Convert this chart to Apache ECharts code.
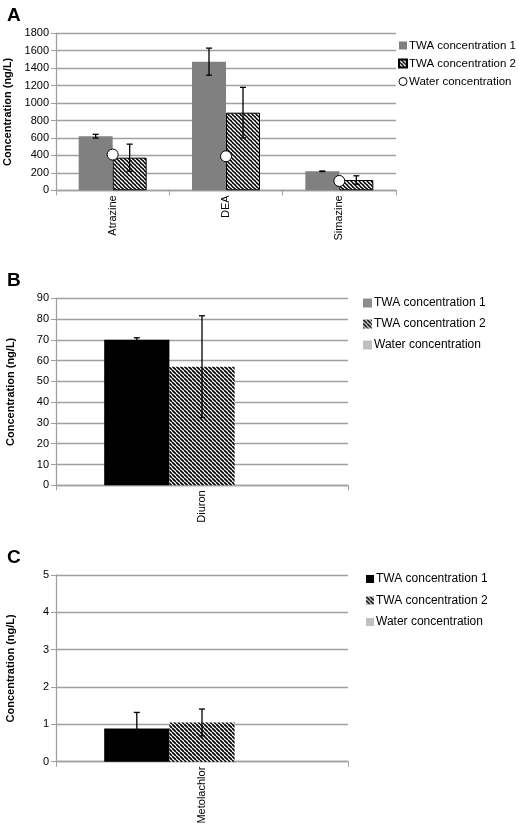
<!DOCTYPE html>
<html>
<head>
<meta charset="utf-8">
<script src="https://cdn.jsdelivr.net/npm/echarts@6/dist/echarts.min.js"></script>
<style>
html,body{margin:0;padding:0;background:#fff;}
#wrap{position:relative;width:519px;height:827px;}
.pan{position:absolute;left:0;width:519px;}
</style>
</head>
<body>
<div id="wrap">
  <div id="pa" class="pan" style="top:0;height:262px;"></div>
  <div id="pb" class="pan" style="top:262px;height:278px;"></div>
  <div id="pc" class="pan" style="top:540px;height:287px;"></div>
</div>
<script>
// ---------- data ----------
const seriesNames = ['TWA concentration 1', 'TWA concentration 2', 'Water concentration'];
const yTitle = 'Concentration (ng/L)';

// Panel A
const categoriesA = ['Atrazine', 'DEA', 'Simazine'];
const twa1A = [620, 1475, 218];
const twa1ErrA = [22, 155, 3];
const twa2A = [374, 890, 118];
const twa2ErrA = [155, 290, 48];
const waterA = [410, 390, 107];
const yTicksA = {min: 0, max: 1800, interval: 200};

// Panel B
const categoriesB = ['Diuron'];
const twa1B = [70];
const twa1ErrB = [1];
const twa2B = [57.1];
const twa2ErrB = [24.5];
const waterB = ['-'];
const yTicksB = {min: 0, max: 90, interval: 10};

// Panel C
const categoriesC = ['Metolachlor'];
const twa1C = [0.89];
const twa1ErrC = [0.43];
const twa2C = [1.05];
const twa2ErrC = [0.36];
const waterC = ['-'];
const yTicksC = {min: 0, max: 5, interval: 1};

// ---------- styling helpers ----------
const FONT = '"Liberation Sans", Arial, Helvetica, sans-serif';
const GRID = '#a0a0a0';

function hatch(bg, fg, size, lw) {
  const c = document.createElement('canvas');
  c.width = size; c.height = size;
  const ctx = c.getContext('2d');
  ctx.fillStyle = bg; ctx.fillRect(0, 0, size, size);
  ctx.strokeStyle = fg; ctx.lineWidth = lw;
  ctx.beginPath();
  for (let k = -1; k <= 1; k++) {
    ctx.moveTo(k * size, 0);
    ctx.lineTo(k * size + size, size);
  }
  ctx.stroke();
  return {image: c, repeat: 'repeat'};
}
const darkHatch = hatch('#000', '#fff', 4, 1.4);
const lightHatch = hatch('#fff', '#000', 4, 1.7);

function errorSeries(vals, errs, offFrac) {
  return {
    type: 'custom',
    silent: true,
    z: 10,
    clip: false,
    encode: {x: 0, y: 1},
    data: vals.map((v, i) => [i, v, errs[i]]),
    renderItem: function (params, api) {
      const idx = api.value(0);
      const v = api.value(1), e = api.value(2);
      const band = api.size([1, 0])[0];
      const hi = api.coord([idx, v + e]);
      const lo = api.coord([idx, Math.max(0, v - e)]);
      const x = hi[0] + band * offFrac;
      const cap = 3;
      const st = {stroke: '#000', lineWidth: 1.3};
      return {
        type: 'group',
        children: [
          {type: 'line', shape: {x1: x, y1: hi[1], x2: x, y2: lo[1]}, style: st},
          {type: 'line', shape: {x1: x - cap, y1: hi[1], x2: x + cap, y2: hi[1]}, style: st},
          {type: 'line', shape: {x1: x - cap, y1: lo[1], x2: x + cap, y2: lo[1]}, style: st}
        ]
      };
    }
  };
}

function baseAxes(cats, ticks, nameGap) {
  return {
    xAxis: {
      type: 'category',
      data: cats,
      axisLine: {show: true, lineStyle: {color: GRID, width: 1.3}},
      axisTick: {show: true, length: 5, interval: 0, lineStyle: {color: GRID}},
      axisLabel: {rotate: 90, margin: 5, fontSize: 11, color: '#000', fontFamily: FONT, interval: 0},
      splitLine: {show: false}
    },
    yAxis: {
      type: 'value',
      min: ticks.min, max: ticks.max, interval: ticks.interval,
      name: yTitle,
      nameLocation: 'middle',
      nameRotate: 90,
      nameGap: nameGap,
      nameTextStyle: {fontSize: 11, fontWeight: 'bold', color: '#000', fontFamily: FONT},
      axisLine: {show: true, lineStyle: {color: GRID, width: 1.3}},
      axisTick: {show: true, length: 5, lineStyle: {color: GRID}},
      axisLabel: {fontSize: 11, color: '#000', fontFamily: FONT, margin: 7,
        formatter: function (v) { return String(v); }},
      splitLine: {show: true, lineStyle: {color: GRID, width: 1.3}}
    }
  };
}

function legend(left, top, gap, size, fs, data) {
  return {
    orient: 'vertical',
    left: left, top: top,
    itemWidth: size, itemHeight: size,
    itemGap: gap,
    icon: 'rect',
    selectedMode: false,
    textStyle: {fontSize: fs, color: '#000', fontFamily: FONT, padding: [0, 0, 0, -3], lineHeight: 14},
    data: data
  };
}

function title(t, top) {
  return {text: t, left: 2, top: top,
    textStyle: {fontSize: 19, fontWeight: 'bold', color: '#000', fontFamily: FONT}};
}

// ---------- Panel A ----------
const chartA = echarts.init(document.getElementById('pa'), null, {renderer: 'canvas'});
const axA = baseAxes(categoriesA, yTicksA, 40);
chartA.setOption({
  animation: false,
  title: title('A', 1),
  grid: {left: 56, top: 33.3, width: 340, height: 157, containLabel: false, outerBoundsMode: 'none'},
  xAxis: axA.xAxis,
  yAxis: axA.yAxis,
  legend: legend(393, 33.5, 4, 8, 11.5, [
    {name: seriesNames[0]},
    {name: seriesNames[1]},
    {name: seriesNames[2], icon: 'circle', itemStyle: {color: '#fff', borderColor: '#000', borderWidth: 1}}
  ]),
  series: [
    {name: seriesNames[0], type: 'bar', data: twa1A, barGap: '0%', barCategoryGap: '40%',
      itemStyle: {color: '#808080'}},
    {name: seriesNames[1], type: 'bar', data: twa2A, barGap: '0%', barCategoryGap: '40%',
      itemStyle: {color: darkHatch, borderColor: '#000', borderWidth: 1}},
    {name: seriesNames[2], type: 'scatter', data: waterA, symbol: 'circle', symbolSize: 11, z: 5,
      itemStyle: {color: '#fff', borderColor: '#000', borderWidth: 1, opacity: 1}},
    errorSeries(twa1A, twa1ErrA, -0.15),
    errorSeries(twa2A, twa2ErrA, 0.15)
  ]
});

// ---------- Panel B ----------
const chartB = echarts.init(document.getElementById('pb'), null, {renderer: 'canvas'});
const axB = baseAxes(categoriesB, yTicksB, 40);
chartB.setOption({
  animation: false,
  title: title('B', 4),
  grid: {left: 56, top: 36.3, width: 292, height: 187, containLabel: false, outerBoundsMode: 'none'},
  xAxis: axB.xAxis,
  yAxis: axB.yAxis,
  legend: legend(358, 29, 7, 9, 12, [
    {name: seriesNames[0], itemStyle: {color: '#8c8c8c'}},
    {name: seriesNames[1]},
    {name: seriesNames[2]}
  ]),
  series: [
    {name: seriesNames[0], type: 'bar', data: twa1B, barGap: '0%', barCategoryGap: '33%',
      itemStyle: {color: '#000'}},
    {name: seriesNames[1], type: 'bar', data: twa2B, barGap: '0%', barCategoryGap: '33%',
      itemStyle: {color: lightHatch}},
    {name: seriesNames[2], type: 'bar', data: waterB, barGap: '0%', barCategoryGap: '33%',
      itemStyle: {color: '#c0c0c0'}},
    errorSeries(twa1B, twa1ErrB, -0.2233),
    errorSeries(twa2B, twa2ErrB, 0)
  ]
});

// ---------- Panel C ----------
const chartC = echarts.init(document.getElementById('pc'), null, {renderer: 'canvas'});
const axC = baseAxes(categoriesC, yTicksC, 40);
chartC.setOption({
  animation: false,
  title: title('C', 3),
  grid: {left: 56, top: 35, width: 292, height: 186.7, containLabel: false, outerBoundsMode: 'none'},
  xAxis: axC.xAxis,
  yAxis: axC.yAxis,
  legend: legend(361, 27, 7.5, 8, 12, [
    {name: seriesNames[0]},
    {name: seriesNames[1]},
    {name: seriesNames[2]}
  ]),
  series: [
    {name: seriesNames[0], type: 'bar', data: twa1C, barGap: '0%', barCategoryGap: '33%',
      itemStyle: {color: '#000'}},
    {name: seriesNames[1], type: 'bar', data: twa2C, barGap: '0%', barCategoryGap: '33%',
      itemStyle: {color: lightHatch}},
    {name: seriesNames[2], type: 'bar', data: waterC, barGap: '0%', barCategoryGap: '33%',
      itemStyle: {color: '#c0c0c0'}},
    errorSeries(twa1C, twa1ErrC, -0.2233),
    errorSeries(twa2C, twa2ErrC, 0)
  ]
});
</script>
</body>
</html>
